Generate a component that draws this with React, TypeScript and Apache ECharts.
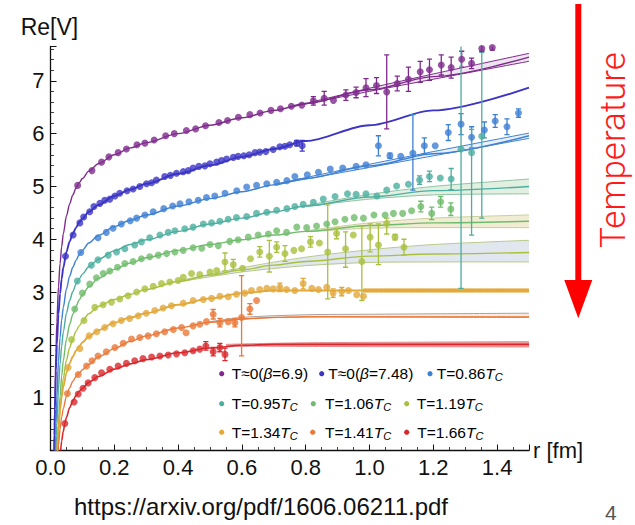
import React, { useEffect, useRef } from "react";
import * as echarts from "echarts";

const FONT = "'Liberation Sans', Arial, Helvetica, sans-serif";

// ---------- colours ----------
const C_PURPLE = "#7e2a8c";
const C_INDIGO = "#3b34c4";
const C_BLUE = "#3f80d3";
const C_TEAL = "#4bae9f";
const C_GREEN = "#6fbc6c";
const C_YGREEN = "#a9c03f";
const C_GOLD = "#e2a83a";
const C_ORANGE = "#ea7838";
const C_RED = "#d8282c";

// ---------- axis ----------
const X_MIN = 0, X_MAX = 1.5, X_STEP = 0.2;
const Y_MIN = 0, Y_MAX = 7.65, Y_STEP = 1;

// ---------- T≈0 (β=6.9) ----------
const purplePts = [[0.085,5.02],[0.130,5.30],[0.160,5.46],[0.183,5.56],[0.212,5.64],[0.238,5.71],[0.271,5.79],[0.296,5.82],[0.325,5.88],[0.361,5.96],[0.388,6.00],[0.426,6.06],[0.455,6.09],[0.486,6.15],[0.528,6.21],[0.555,6.25],[0.589,6.31],[0.625,6.36],[0.657,6.39],[0.691,6.44],[0.721,6.47],[0.755,6.52],[0.788,6.54],[0.824,6.62],[0.858,6.67],[0.887,6.63],[0.926,6.73],[0.958,6.78],[0.989,6.87],[1.022,6.91],[1.054,6.79],[1.087,6.95],[1.122,7.03],[1.159,7.17],[1.188,7.21],[1.225,7.30],[1.256,7.25],[1.289,7.41],[1.320,7.33],[1.352,7.61],[1.385,7.63]];
const purpleErr = [[0.824,6.54,6.70],[0.858,6.54,6.80],[0.926,6.63,6.83],[0.958,6.68,6.88],[0.989,6.70,7.04],[1.022,6.76,7.06],[1.054,6.09,7.49],[1.087,6.81,7.09],[1.122,6.80,7.26],[1.159,6.97,7.37],[1.188,7.01,7.41],[1.225,7.11,7.49],[1.256,7.05,7.45],[1.289,7.26,7.56],[1.320,7.23,7.43],[1.352,7.56,7.66],[1.385,7.58,7.68]];
const purpleFit = [[0.0115,0],[0.0125,0.47],[0.014,1.03],[0.017,1.86],[0.02,2.44],[0.025,3.10],[0.03,3.54],[0.035,3.86],[0.04,4.10],[0.05,4.44],[0.06,4.67],[0.07,4.84],[0.08,4.97],[0.09,5.07],[0.1,5.15],[0.12,5.29],[0.15,5.43],[0.2,5.60],[0.25,5.73],[0.3,5.83],[0.4,6.00],[0.5,6.16],[0.6,6.30],[0.7,6.44],[0.8,6.57],[1.0,6.83],[1.2,7.08],[1.5,7.45]];
const purpleBand = [[0.75,6.50,6.50],[1.0,6.80,6.86],[1.2,7.03,7.13],[1.5,7.37,7.52]];

// ---------- T≈0 (β=7.48) ----------
const indigoPts = [[0.047,3.68],[0.071,4.08],[0.092,4.31],[0.104,4.42],[0.123,4.52],[0.136,4.62],[0.155,4.68],[0.170,4.74],[0.186,4.76],[0.202,4.82],[0.217,4.87],[0.240,4.92],[0.259,4.95],[0.280,5.00],[0.301,5.05],[0.317,5.07],[0.332,5.12],[0.358,5.19],[0.376,5.21],[0.395,5.25],[0.416,5.28],[0.432,5.30],[0.447,5.35],[0.465,5.38],[0.484,5.39],[0.500,5.43],[0.521,5.46],[0.536,5.49],[0.552,5.52],[0.573,5.55],[0.588,5.57],[0.606,5.58],[0.623,5.60],[0.641,5.64],[0.656,5.65],[0.675,5.66],[0.698,5.70],[0.719,5.75],[0.735,5.76],[0.750,5.79],[0.772,5.82],[0.789,5.77]];
const indigoErr = [[0.772,5.77,5.87],[0.789,5.67,5.87]];
const indigoFit = [[0.0118,0],[0.0125,0.30],[0.014,0.78],[0.017,1.51],[0.02,2.01],[0.025,2.58],[0.03,2.97],[0.035,3.25],[0.04,3.46],[0.05,3.76],[0.06,3.96],[0.07,4.11],[0.08,4.22],[0.09,4.32],[0.1,4.39],[0.12,4.52],[0.15,4.65],[0.2,4.82],[0.25,4.94],[0.3,5.05],[0.4,5.24],[0.5,5.40],[0.6,5.56],[0.7,5.71],[0.8,5.86],[1.0,6.16],[1.2,6.44],[1.5,6.87]];

// ---------- T=0.86 Tc ----------
const bluePts = [[0.095,3.75],[0.149,4.03],[0.175,4.13],[0.196,4.21],[0.222,4.29],[0.250,4.35],[0.270,4.40],[0.296,4.46],[0.322,4.52],[0.355,4.58],[0.383,4.63],[0.406,4.67],[0.434,4.71],[0.463,4.74],[0.489,4.79],[0.515,4.82],[0.547,4.87],[0.584,4.92],[0.615,4.99],[0.646,5.02],[0.678,5.05],[0.709,5.08],[0.741,5.11],[0.766,5.19],[0.805,5.22],[0.840,5.27],[0.877,5.33],[0.916,5.35],[0.958,5.38],[0.989,5.41],[1.028,5.77],[1.064,5.58],[1.098,5.57],[1.136,5.63],[1.172,5.77],[1.206,5.77],[1.247,6.02],[1.287,6.18],[1.320,5.93],[1.360,6.07],[1.394,6.24],[1.431,6.13],[1.467,6.39]];
const blueErr = [[1.028,5.58,5.96],[1.064,5.53,5.63],[1.136,4.93,6.36],[1.172,5.62,5.92],[1.247,5.87,6.17],[1.287,5.98,6.38],[1.320,5.73,6.13],[1.360,5.92,6.22],[1.394,6.12,6.36],[1.431,5.98,6.28],[1.467,6.31,6.47]];
const blueFit = [[0.0155,0],[0.0165,0.29],[0.0175,0.52],[0.02,1.01],[0.025,1.69],[0.03,2.14],[0.035,2.47],[0.04,2.71],[0.05,3.06],[0.06,3.30],[0.07,3.47],[0.08,3.60],[0.09,3.71],[0.1,3.79],[0.12,3.93],[0.15,4.07],[0.2,4.24],[0.25,4.36],[0.3,4.46],[0.4,4.63],[0.5,4.77],[0.6,4.90],[0.7,5.03],[0.8,5.15],[1.0,5.39],[1.2,5.62],[1.5,5.96]];
const blueBand = [[0.7,5.03,5.04],[1.0,5.36,5.42],[1.2,5.58,5.66],[1.5,5.91,6.01]];

// ---------- T=0.95 Tc ----------
const tealPts = [[0.084,3.21],[0.128,3.51],[0.149,3.61],[0.181,3.70],[0.207,3.76],[0.233,3.82],[0.264,3.89],[0.285,3.95],[0.311,4.03],[0.343,4.08],[0.369,4.13],[0.390,4.16],[0.421,4.20],[0.447,4.23],[0.479,4.29],[0.505,4.31],[0.531,4.34],[0.557,4.38],[0.583,4.41],[0.615,4.43],[0.646,4.49],[0.678,4.51],[0.709,4.55],[0.741,4.58],[0.766,4.62],[0.792,4.66],[0.824,4.70],[0.855,4.76],[0.892,4.81],[0.931,4.86],[0.958,4.85],[0.989,4.86],[1.023,4.82],[1.054,4.93],[1.085,5.01],[1.122,5.04],[1.157,5.12],[1.188,5.19],[1.222,5.16],[1.256,5.14],[1.287,5.71],[1.320,5.64],[1.352,5.95]];
const tealErr = [[1.157,5.04,5.20],[1.188,5.09,5.29],[1.256,4.94,5.34],[1.287,3.07,7.68],[1.320,4.08,6.08],[1.352,4.40,7.54]];
const tealFit = [[0.0177,0],[0.019,0.28],[0.02,0.47],[0.025,1.17],[0.03,1.64],[0.035,1.98],[0.04,2.24],[0.05,2.60],[0.06,2.84],[0.07,3.01],[0.08,3.15],[0.09,3.25],[0.1,3.34],[0.12,3.48],[0.15,3.62],[0.2,3.78],[0.25,3.90],[0.3,3.99],[0.4,4.15],[0.5,4.29],[0.6,4.40],[0.7,4.52],[0.8,4.63],[1.0,4.80],[1.2,4.92],[1.5,5.00]];
const tealBand = [[0.8,4.62,4.64],[1.0,4.76,4.85],[1.2,4.84,5.00],[1.5,4.86,5.14]];

// ---------- T=1.06 Tc ----------
const greenPts = [[0.076,2.68],[0.100,2.98],[0.123,3.15],[0.144,3.27],[0.165,3.35],[0.186,3.40],[0.210,3.47],[0.233,3.54],[0.259,3.58],[0.285,3.63],[0.311,3.67],[0.338,3.70],[0.364,3.73],[0.390,3.76],[0.416,3.79],[0.447,3.84],[0.474,3.83],[0.500,3.90],[0.526,3.88],[0.562,3.96],[0.588,3.99],[0.620,4.04],[0.651,4.08],[0.683,4.10],[0.709,4.16],[0.740,4.13],[0.772,4.23],[0.803,4.22],[0.834,4.25],[0.866,4.29],[0.892,4.33],[0.923,4.38],[0.952,4.41],[0.981,4.40],[1.014,4.46],[1.049,4.46],[1.075,4.49],[1.104,4.49],[1.132,4.54],[1.161,4.62],[1.195,4.49],[1.223,4.71],[1.255,4.57]];
const greenErr = [[1.161,4.52,4.72],[1.195,4.37,4.61],[1.223,4.61,4.81],[1.255,4.45,4.69]];
const greenFit = [[0.0218,0],[0.023,0.21],[0.025,0.49],[0.03,1.03],[0.035,1.41],[0.04,1.70],[0.05,2.11],[0.06,2.39],[0.07,2.58],[0.08,2.73],[0.09,2.85],[0.1,2.95],[0.12,3.10],[0.15,3.26],[0.2,3.43],[0.25,3.55],[0.3,3.65],[0.4,3.79],[0.5,3.90],[0.6,3.99],[0.7,4.08],[0.8,4.15],[1.0,4.26],[1.2,4.31],[1.5,4.34]];
const greenBand = [[0.8,4.14,4.16],[1.0,4.21,4.31],[1.2,4.22,4.40],[1.5,4.22,4.46]];

// ---------- T=1.19 Tc ----------
const ygreenPts = [[0.066,2.10],[0.105,2.46],[0.139,2.71],[0.165,2.76],[0.191,2.81],[0.217,2.87],[0.243,2.93],[0.270,3.00],[0.296,3.06],[0.322,3.11],[0.348,3.16],[0.374,3.19],[0.400,3.22],[0.416,3.28],[0.442,3.35],[0.468,3.33],[0.500,3.38],[0.521,3.41],[0.547,3.57],[0.573,3.52],[0.602,3.45],[0.627,3.63],[0.656,3.76],[0.686,3.68],[0.709,3.85],[0.735,3.73],[0.763,3.79],[0.787,3.82],[0.815,3.95],[0.843,3.93],[0.869,3.76],[0.897,4.11],[0.925,3.82],[0.949,4.08],[0.976,3.58],[1.002,4.04],[1.028,3.89],[1.054,4.30],[1.080,4.04],[1.108,3.85]];
const ygreenErr = [[0.547,3.40,3.74],[0.573,3.42,3.62],[0.656,3.66,3.86],[0.686,3.38,3.98],[0.709,3.75,3.95],[0.735,3.58,3.88],[0.815,3.85,4.05],[0.869,2.87,4.65],[0.897,4.01,4.21],[0.925,3.47,4.14],[0.976,2.84,4.25],[1.002,3.76,4.29],[1.028,3.52,4.29],[1.054,4.10,4.40],[1.080,3.99,4.09],[1.108,3.70,4.00]];
const ygreenFit = [[0.0226,0],[0.024,0.21],[0.025,0.32],[0.03,0.78],[0.035,1.11],[0.04,1.36],[0.05,1.71],[0.06,1.95],[0.07,2.12],[0.08,2.26],[0.09,2.36],[0.1,2.45],[0.12,2.59],[0.15,2.73],[0.2,2.86],[0.25,2.96],[0.3,3.05],[0.4,3.20],[0.5,3.32],[0.6,3.42],[0.7,3.51],[0.8,3.58],[1.0,3.68],[1.2,3.72],[1.5,3.75]];
const ygreenBand = [[0.4,3.19,3.21],[0.6,3.38,3.46],[0.8,3.50,3.66],[1.0,3.56,3.80],[1.2,3.57,3.90],[1.5,3.57,3.98]];

// ---------- T=1.34 Tc ----------
const goldPts = [[0.055,1.57],[0.092,1.93],[0.121,2.17],[0.145,2.25],[0.170,2.33],[0.196,2.40],[0.222,2.46],[0.248,2.50],[0.275,2.55],[0.300,2.60],[0.327,2.65],[0.353,2.70],[0.379,2.74],[0.416,2.79],[0.447,2.84],[0.479,2.86],[0.505,2.88],[0.531,2.92],[0.557,2.91],[0.583,2.96],[0.609,2.98],[0.630,3.03],[0.656,3.05],[0.678,3.07],[0.698,3.06],[0.719,3.09],[0.740,3.05],[0.766,3.03],[0.792,3.16],[0.819,3.07],[0.840,3.05],[0.866,3.09],[0.886,2.98],[0.913,3.01],[0.934,3.03],[0.960,2.95],[0.981,2.92]];
const goldErr = [[0.719,3.01,3.17],[0.792,3.06,3.26],[0.886,2.90,3.06],[0.913,2.93,3.09]];
const goldFit = [[0.021,0],[0.025,0.42],[0.03,0.76],[0.035,1.01],[0.04,1.20],[0.05,1.47],[0.06,1.65],[0.07,1.78],[0.08,1.89],[0.09,1.97],[0.1,2.05],[0.12,2.16],[0.15,2.28],[0.2,2.42],[0.25,2.52],[0.3,2.60],[0.4,2.76],[0.5,2.88],[0.6,2.98],[0.7,3.03],[0.8,3.03],[1.0,3.03],[1.5,3.03]];
const goldBand = [[0.98,3.00,3.06],[1.5,3.00,3.06]];

// ---------- T=1.41 Tc ----------
const orangePts = [[0.053,1.08],[0.087,1.44],[0.113,1.60],[0.130,1.70],[0.149,1.79],[0.175,1.87],[0.202,1.95],[0.228,2.03],[0.254,2.11],[0.280,2.14],[0.306,2.17],[0.332,2.21],[0.358,2.25],[0.385,2.29],[0.411,2.33],[0.425,2.23],[0.447,2.36],[0.468,2.39],[0.489,2.44],[0.510,2.58],[0.531,2.42],[0.557,2.44],[0.578,2.42],[0.599,2.52],[0.625,2.68],[0.646,2.84]];
const orangeErr = [[0.510,2.49,2.67],[0.531,2.34,2.50],[0.578,2.34,2.50],[0.599,1.79,3.31],[0.625,2.58,2.78]];
const orangeFit = [[0.024,0],[0.025,0.10],[0.03,0.41],[0.035,0.63],[0.04,0.79],[0.05,1.03],[0.06,1.19],[0.07,1.31],[0.08,1.40],[0.09,1.47],[0.1,1.53],[0.12,1.63],[0.15,1.77],[0.2,1.93],[0.25,2.07],[0.3,2.17],[0.4,2.32],[0.5,2.43],[0.6,2.49],[0.7,2.52],[0.8,2.53],[1.0,2.53],[1.5,2.53]];
const orangeBand = [[0.5,2.42,2.44],[0.6,2.49,2.52],[0.8,2.53,2.57],[1.0,2.53,2.58],[1.5,2.52,2.60]];

// ---------- T=1.66 Tc ----------
const redPts = [[0.045,0.51],[0.074,0.92],[0.087,1.07],[0.102,1.18],[0.118,1.28],[0.139,1.38],[0.160,1.47],[0.186,1.54],[0.212,1.60],[0.238,1.65],[0.264,1.70],[0.290,1.74],[0.317,1.77],[0.343,1.79],[0.369,1.81],[0.395,1.83],[0.421,1.85],[0.447,1.89],[0.468,1.92],[0.487,1.98],[0.510,1.87],[0.531,1.95],[0.547,1.82]];
const redErr = [[0.487,1.90,2.06],[0.510,1.79,1.95],[0.531,1.87,2.03],[0.547,1.70,1.94]];
const redFit = [[0.032,0],[0.035,0.18],[0.04,0.36],[0.045,0.51],[0.05,0.63],[0.06,0.81],[0.07,0.94],[0.08,1.04],[0.09,1.12],[0.1,1.18],[0.12,1.29],[0.15,1.40],[0.2,1.54],[0.25,1.64],[0.3,1.72],[0.4,1.85],[0.5,1.94],[0.6,1.99],[0.7,2.01],[0.8,2.01],[1.0,2.01],[1.5,2.01]];
const redBand = [[0.55,1.98,2.01],[0.8,1.97,2.04],[1.5,1.96,2.06]];

// ---------- legend labels (rich text) ----------
const legendLabels = [
  "{a|T≈0(}{i|β}{a|=6.9)}",
  "{a|T≈0(}{i|β}{a|=7.48)}",
  "{a|T=0.86}{i|T}{s|C}",
  "{a|T=0.95}{i|T}{s|C}",
  "{a|T=1.06}{i|T}{s|C}",
  "{a|T=1.19}{i|T}{s|C}",
  "{a|T=1.34}{i|T}{s|C}",
  "{a|T=1.41}{i|T}{s|C}",
  "{a|T=1.66}{i|T}{s|C}",
];
// legend layout: [dotX, textX, rowY]
const legendPos = [
  [221.7, 231.7, 373.7], [321.7, 328.3, 373.7], [430, 436.7, 373.7],
  [221.7, 231.7, 403.7], [313.3, 325, 403.7], [406.7, 416.7, 403.7],
  [221.7, 231.7, 432.2], [312.7, 325, 432.2], [406.7, 417.3, 432.2],
];

const meta = [
  { color: C_PURPLE, pts: purplePts, errs: purpleErr, fit: purpleFit, band: purpleBand, fill: "rgba(126,42,140,0.12)", edgeLo: C_PURPLE, edgeHi: C_PURPLE, w: 1.4 },
  { color: C_INDIGO, pts: indigoPts, errs: indigoErr, fit: indigoFit, band: null, fill: "", edgeLo: "", edgeHi: "", w: 1.9 },
  { color: C_BLUE, pts: bluePts, errs: blueErr, fit: blueFit, band: blueBand, fill: "rgba(63,128,211,0.12)", edgeLo: C_BLUE, edgeHi: C_BLUE, w: 1.4 },
  { color: C_TEAL, pts: tealPts, errs: tealErr, fit: tealFit, band: tealBand, fill: "rgba(150,200,150,0.28)", edgeLo: "#8fc2a5", edgeHi: "#8fc2a5", w: 1.4 },
  { color: C_GREEN, pts: greenPts, errs: greenErr, fit: greenFit, band: greenBand, fill: "rgba(225,215,160,0.45)", edgeLo: "#c8cf95", edgeHi: "#c8cf95", w: 1.4 },
  { color: C_YGREEN, pts: ygreenPts, errs: ygreenErr, fit: ygreenFit, band: ygreenBand, fill: "rgba(170,185,210,0.35)", edgeLo: "#b7c98a", edgeHi: "#b7c98a", w: 1.4 },
  { color: C_GOLD, pts: goldPts, errs: goldErr, fit: goldFit, band: goldBand, fill: "rgba(226,168,58,0.9)", edgeLo: C_GOLD, edgeHi: C_GOLD, w: 1.8 },
  { color: C_ORANGE, pts: orangePts, errs: orangeErr, fit: orangeFit, band: orangeBand, fill: "rgba(234,140,90,0.18)", edgeLo: C_ORANGE, edgeHi: "#a8a0a0", w: 1.4 },
  { color: C_RED, pts: redPts, errs: redErr, fit: redFit, band: redBand, fill: "rgba(216,40,44,0.45)", edgeLo: "#e58a8c", edgeHi: "#e58a8c", w: 1.6 },
];

function bandRenderer(band: number[][], fill: string, edgeLo: string, edgeHi: string) {
  return (_params: any, api: any) => {
    const up = band.map((b) => api.coord([b[0], b[2]]));
    const lo = band.map((b) => api.coord([b[0], b[1]]));
    return {
      type: "group",
      children: [
        { type: "polygon", shape: { points: up.concat(lo.slice().reverse()), smooth: 0 }, style: { fill, stroke: "none" } },
        { type: "polyline", shape: { points: up, smooth: 0.3 }, style: { stroke: edgeHi, lineWidth: 1, fill: "none" } },
        { type: "polyline", shape: { points: lo, smooth: 0.3 }, style: { stroke: edgeLo, lineWidth: 1, fill: "none" } },
      ],
    };
  };
}

function errRenderer(color: string) {
  return (_params: any, api: any) => {
    const x = api.value(0);
    const a = api.coord([x, api.value(1)]);
    const b = api.coord([x, api.value(2)]);
    const w = 2.6;
    const st = { stroke: color, lineWidth: 1.3 };
    return {
      type: "group",
      children: [
        { type: "line", shape: { x1: a[0], y1: a[1], x2: b[0], y2: b[1] }, style: st },
        { type: "line", shape: { x1: a[0] - w, y1: a[1], x2: a[0] + w, y2: a[1] }, style: st },
        { type: "line", shape: { x1: b[0] - w, y1: b[1], x2: b[0] + w, y2: b[1] }, style: st },
      ],
    };
  };
}

export default function App() {
  const ref = useRef<HTMLDivElement>(null);
  useEffect(() => {
    const chart = echarts.init(ref.current!, null, { renderer: "svg" });
    const series: any[] = [];
    meta.forEach((m) => {
      if (m.band) {
        series.push({
          type: "custom", silent: true, z: 1, clip: true,
          data: [[0.5, 1]], encode: { x: 0, y: 1 },
          renderItem: bandRenderer(m.band, m.fill, m.edgeLo, m.edgeHi),
        });
      }
      series.push({
        type: "line", data: m.fit, showSymbol: false, silent: true, z: 2,
        smooth: 0.3, smoothMonotone: "x",
        lineStyle: { color: m.color, width: m.w },
      });
      series.push({
        type: "custom", silent: true, z: 3, clip: true,
        data: m.errs, encode: { x: 0, y: [1, 2] },
        renderItem: errRenderer(m.color),
      });
      series.push({
        type: "scatter", data: m.pts, symbolSize: 7, silent: true, z: 4,
        itemStyle: { color: m.color },
      });
    });

    const richStyles = {
      a: { fontFamily: FONT, fontSize: 15.5, lineHeight: 18, color: "#222" },
      i: { fontFamily: FONT, fontSize: 15.5, lineHeight: 18, fontStyle: "italic", color: "#222" },
      s: { fontFamily: FONT, fontSize: 11, lineHeight: 11, fontStyle: "italic", padding: [7, 0, 0, 0], color: "#222" },
    };

    const legendEls: any[] = [];
    legendLabels.forEach((lab, i) => {
      const [dx, tx, y] = legendPos[i];
      legendEls.push({ type: "circle", shape: { cx: dx, cy: y, r: 2.6 }, style: { fill: meta[i].color } });
      legendEls.push({
        type: "text", x: tx, y: y,
        style: { text: lab, rich: richStyles, verticalAlign: "middle", align: "left" },
      });
    });

    const option: any = {
      animation: false,
      backgroundColor: "#ffffff",
      grid: { left: 50.5, top: 46.5, width: 478.5, height: 404 },
      xAxis: {
        type: "value", min: X_MIN, max: X_MAX, interval: X_STEP,
        axisLine: { onZero: false, lineStyle: { color: "#111", width: 1.3 } },
        axisTick: { inside: true, length: 6, lineStyle: { color: "#111", width: 1 } },
        minorTick: { show: true, splitNumber: 4, length: 3.5, lineStyle: { color: "#111", width: 0.8 } },
        splitLine: { show: false },
        axisLabel: {
          margin: 6, color: "#111", fontSize: 22, fontFamily: FONT, showMaxLabel: false,
          formatter: (v: number) => v.toFixed(1),
        },
      },
      yAxis: {
        type: "value", min: Y_MIN, max: Y_MAX, interval: Y_STEP,
        axisLine: { show: true, onZero: false, lineStyle: { color: "#111", width: 1.3 } },
        axisTick: { show: true, inside: true, length: 6, lineStyle: { color: "#111", width: 1 } },
        minorTick: { show: true, splitNumber: 5, length: 3.5, lineStyle: { color: "#111", width: 0.8 } },
        splitLine: { show: false },
        axisLabel: {
          margin: 6, color: "#111", fontSize: 22, fontFamily: FONT, showMaxLabel: false,
          formatter: (v: number) => (v === 0 ? "" : String(v)),
        },
      },
      series,
      graphic: [
        { type: "text", x: 20.7, y: 27, style: { text: "Re[V]", fill: "#111", font: `23px ${FONT}`, verticalAlign: "middle" } },
        { type: "text", x: 533, y: 450.5, style: { text: "r [fm]", fill: "#111", font: `22px ${FONT}`, verticalAlign: "middle" } },
        { type: "text", x: 74, y: 506.7, style: { text: "https://arxiv.org/pdf/1606.06211.pdf", fill: "#111", font: `24px ${FONT}`, verticalAlign: "middle" } },
        { type: "text", x: 605, y: 512, style: { text: "4", fill: "#555", font: `21px ${FONT}`, verticalAlign: "middle" } },
        { type: "text", x: 613.5, y: 150, rotation: Math.PI / 2,
          style: { text: "Temperature", fill: "#ff1a1a", font: `300 35px Roboto, 'Liberation Sans', sans-serif`, align: "center", verticalAlign: "middle" } },
        { type: "line", shape: { x1: 578.3, y1: 4, x2: 578.3, y2: 284 }, style: { stroke: "#ff0000", lineWidth: 6 } },
        { type: "polygon", shape: { points: [[564.3, 280], [592.3, 280], [578.3, 318.3]] }, style: { fill: "#ff0000" } },
        ...legendEls,
      ],
    };
    chart.setOption(option);
    return () => chart.dispose();
  }, []);
  return <div ref={ref} style={{ position: "fixed", left: 0, top: 0, width: 635, height: 525, background: "#fff" }} />;
}
